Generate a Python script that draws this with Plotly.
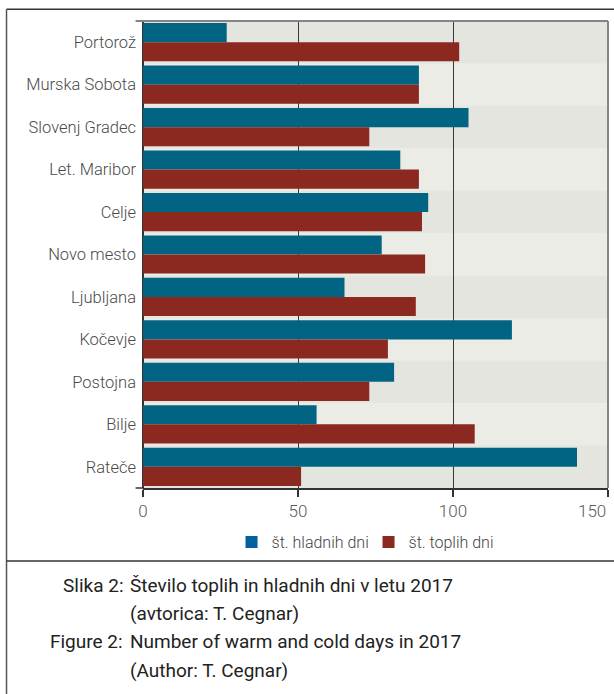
import plotly.graph_objects as go

stations = ["Portorož", "Murska Sobota", "Slovenj Gradec", "Let. Maribor", "Celje",
            "Novo mesto", "Ljubljana", "Kočevje", "Postojna", "Bilje", "Rateče"]
cold_days = [27, 89, 105, 83, 92, 77, 65, 119, 81, 56, 140]
warm_days = [102, 89, 73, 89, 90, 91, 88, 79, 73, 107, 51]
cold_name = "št. hladnih dni"
warm_name = "št. toplih dni"
x_ticks = [0, 50, 100, 150]
x_ticktext = ["0", "50", "100", ""]   # last label is drawn right-aligned below
caption_labels = ["Slika 2:", "", "Figure 2:", ""]
caption_texts = ["Število toplih in hladnih dni v letu 2017", "(avtorica: T. Cegnar)",
                 "Number of warm and cold days in 2017", "(Author: T. Cegnar)"]

FONT = "Roboto, Liberation Sans, sans-serif"
BLUE = "#006482"
RED = "#8b2820"
LEG_BLUE = "#0060a0"

fig = go.Figure()
fig.add_trace(go.Bar(y=stations, x=cold_days, orientation="h", marker_color=BLUE,
                     marker_line_width=0, showlegend=False, name=cold_name, offsetgroup="c"))
fig.add_trace(go.Bar(y=stations, x=warm_days, orientation="h", marker_color=RED,
                     marker_line_width=0, showlegend=False, name=warm_name, offsetgroup="w"))
# legend-only entries (share the bar slots)
fig.add_trace(go.Bar(y=[stations[0]], x=[None], orientation="h", marker_color=LEG_BLUE,
                     marker_line_width=0, name=cold_name, hoverinfo="skip", offsetgroup="c"))
fig.add_trace(go.Bar(y=[stations[0]], x=[None], orientation="h", marker_color=RED,
                     marker_line_width=0, name=warm_name, hoverinfo="skip", offsetgroup="w"))

shapes = []
for i, _ in enumerate(stations):
    shapes.append(dict(type="rect", xref="x domain", yref="y", x0=0, x1=1,
                       y0=i - 0.5, y1=i + 0.5, layer="below", line_width=0,
                       fillcolor="#e5e5df" if i % 2 == 0 else "#ececE7"))
# top and right border of plot (gray)
shapes.append(dict(type="line", xref="paper", yref="paper", x0=-0.016, x1=1, y0=1, y1=1,
                   line=dict(color="#858585", width=2), layer="above"))
shapes.append(dict(type="line", xref="paper", yref="paper", x0=1, x1=1, y0=0, y1=1,
                   line=dict(color="#858585", width=2), layer="above"))
# bottom axis extension to the left
shapes.append(dict(type="line", xref="paper", yref="paper", x0=-0.016, x1=0, y0=0, y1=0,
                   line=dict(color="#333333", width=1.5), layer="above"))
# outer frame
shapes.append(dict(type="line", xref="paper", yref="paper", x0=-0.2935, x1=1.02, y0=1.025, y1=1.025,
                   line=dict(color="#333333", width=1.5), layer="above"))
shapes.append(dict(type="line", xref="paper", yref="paper", x0=-0.2935, x1=-0.2935, y0=1.025, y1=-0.45,
                   line=dict(color="#555555", width=1.5), layer="above"))
shapes.append(dict(type="line", xref="paper", yref="paper", x0=-0.2935, x1=1.02, y0=-0.1562, y1=-0.1562,
                   line=dict(color="#333333", width=1.5), layer="above"))

annotations = []
# last x tick label, right-aligned to its tick so it stays inside the page
annotations.append(dict(xref="x", yref="paper", x=x_ticks[-1], y=-0.049, text=str(x_ticks[-1]),
                        showarrow=False, xanchor="right", yanchor="middle",
                        font=dict(family=FONT, size=17, color="#5a5a5a", weight=300)))
cap_y = [-0.2097, -0.2696, -0.3296, -0.3916]
for lab, txt, yy in zip(caption_labels, caption_texts, cap_y):
    if lab:
        annotations.append(dict(xref="paper", yref="paper", x=-0.0394, y=yy, text=lab,
                                showarrow=False, xanchor="right", yanchor="middle",
                                font=dict(family=FONT, size=19, color="#222222")))
    annotations.append(dict(xref="paper", yref="paper", x=-0.0330, y=yy, text=txt,
                            showarrow=False, xanchor="left", yanchor="middle",
                            font=dict(family=FONT, size=19, color="#222222")))

fig.update_layout(
    width=614, height=694,
    margin=dict(l=143, r=6, t=21, b=206),
    paper_bgcolor="white", plot_bgcolor="#e8e8e2",
    barmode="group", bargap=0.1, bargroupgap=0,
    font=dict(family=FONT, color="#555555"),
    shapes=shapes, annotations=annotations,
    legend=dict(orientation="h", x=0.485, y=-0.1156, xanchor="center", yanchor="middle",
                font=dict(family=FONT, size=16, color="#444444", weight=300),
                traceorder="normal", bgcolor="rgba(0,0,0,0)", itemwidth=30,
                entrywidth=92, entrywidthmode="pixels"),
)
fig.update_xaxes(range=[0, 150], tickvals=x_ticks, ticktext=x_ticktext, ticks="outside", ticklen=7,
                 tickcolor="#333333", tickwidth=1.5, showline=True, linecolor="#333333",
                 linewidth=1.5, showgrid=True, gridcolor="#3a3a3a", gridwidth=1,
                 zeroline=True, zerolinecolor="#333333", zerolinewidth=1.5,
                 automargin=False,
                 tickfont=dict(family=FONT, size=17, color="#5a5a5a", weight=300), fixedrange=True)
fig.update_yaxes(autorange="reversed", categoryorder="array", categoryarray=stations,
                 ticks="", showgrid=False, showline=False, ticklabelstandoff=6, automargin=False,
                 tickfont=dict(family=FONT, size=16.5, color="#4a4a4a", weight=300), fixedrange=True)

fig.write_html("out.html")
